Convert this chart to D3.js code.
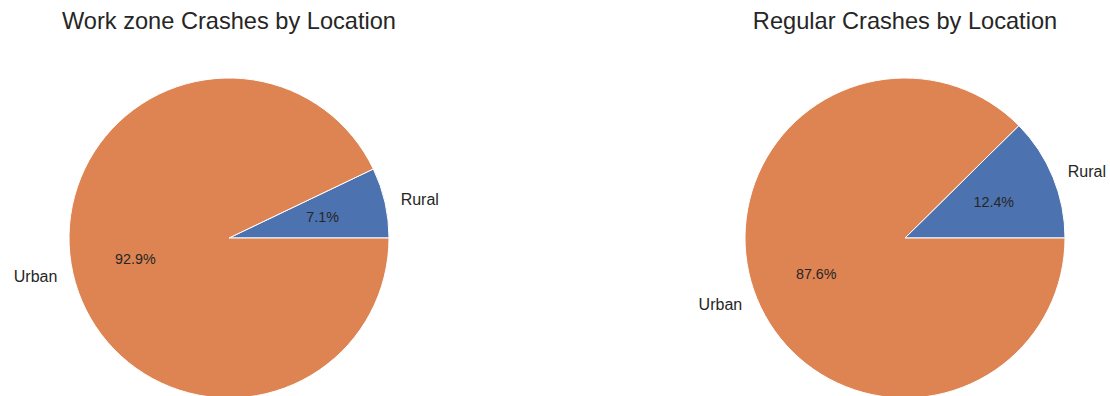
<!DOCTYPE html>
<html>
<head>
<meta charset="utf-8">
<script src="https://cdn.jsdelivr.net/npm/d3@7"></script>
<style>
  html, body { margin: 0; padding: 0; background: #ffffff; }
  svg { display: block; font-family: "Liberation Sans", Arial, sans-serif; }
</style>
</head>
<body>
<svg id="chart" width="1110" height="396"></svg>
<script>
// Crash share by location for two crash groups
const categories = ["Rural", "Urban"];
const workZoneShares = [7.1, 92.9];
const regularShares = [12.4, 87.6];
const titles = ["Work zone Crashes by Location", "Regular Crashes by Location"];
const sliceColors = ["#4c72b0", "#dd8452"];

const svg = d3.select("#chart");
const textColor = "#262626";
const radius = 160;

const panels = [
  { title: titles[0], values: workZoneShares, cx: 229, cy: 238 },
  { title: titles[1], values: regularShares, cx: 905, cy: 238 }
];

// Slices start at 3 o'clock and run counter-clockwise
const pie = d3.pie()
  .sort(null)
  .value(d => d.value)
  .startAngle(Math.PI / 2)
  .endAngle(Math.PI / 2 - 2 * Math.PI);

const arc = d3.arc().innerRadius(0).outerRadius(radius);
const pctArc = d3.arc().innerRadius(radius * 0.6).outerRadius(radius * 0.6);
const labelArc = d3.arc().innerRadius(radius * 1.1).outerRadius(radius * 1.1);

const color = d3.scaleOrdinal().domain(categories).range(sliceColors);

panels.forEach(p => {
  const data = categories.map((c, i) => ({ category: c, value: p.values[i] }));
  const g = svg.append("g").attr("transform", `translate(${p.cx},${p.cy})`);

  const slices = pie(data);

  g.selectAll("path.slice")
    .data(slices)
    .join("path")
    .attr("class", "slice")
    .attr("d", arc)
    .attr("fill", d => color(d.data.category))
    .attr("stroke", "#ffffff")
    .attr("stroke-width", 1);

  // percentage labels inside the slices
  g.selectAll("text.pct")
    .data(slices)
    .join("text")
    .attr("class", "pct")
    .attr("transform", d => `translate(${pctArc.centroid(d)})`)
    .attr("text-anchor", "middle")
    .attr("dominant-baseline", "central")
    .attr("font-size", 14.3)
    .attr("fill", textColor)
    .text(d => d.data.value.toFixed(1) + "%");

  // category labels outside the pie
  g.selectAll("text.cat")
    .data(slices)
    .join("text")
    .attr("class", "cat")
    .attr("transform", d => `translate(${labelArc.centroid(d)})`)
    .attr("text-anchor", d => labelArc.centroid(d)[0] >= 0 ? "start" : "end")
    .attr("dominant-baseline", "central")
    .attr("font-size", 16)
    .attr("fill", textColor)
    .text(d => d.data.category);

  svg.append("text")
    .attr("x", p.cx)
    .attr("y", 29)
    .attr("text-anchor", "middle")
    .attr("font-size", 23.6)
    .attr("fill", textColor)
    .text(p.title);
});
</script>
</body>
</html>
